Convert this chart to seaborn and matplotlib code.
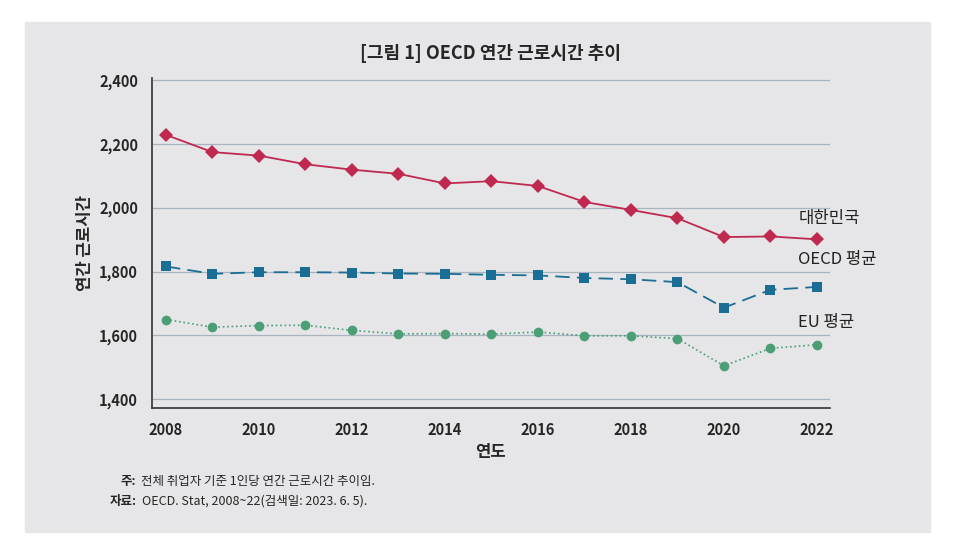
import matplotlib
matplotlib.use('Agg')
from matplotlib import pyplot as plt
from matplotlib.patches import Rectangle
import seaborn as sns

years = list(range(2008, 2023))
korea = [2228, 2174, 2163, 2136, 2119, 2106, 2076, 2083, 2068, 2018, 1993, 1967, 1908, 1910, 1901]
oecd = [1816, 1793, 1798, 1798, 1797, 1794, 1793, 1790, 1788, 1780, 1776, 1767, 1687, 1743, 1752]
eu = [1650, 1626, 1631, 1632, 1616, 1605, 1606, 1604, 1611, 1599, 1599, 1590, 1505, 1560, 1571]
yticks = [1400, 1600, 1800, 2000, 2200, 2400]

sns.set_style('white')
plt.rcParams['font.family'] = ['Noto Sans CJK KR', 'DejaVu Sans']

fig = plt.figure(figsize=(9.54, 5.57), dpi=100)
bg = '#e6e6e8'
fig.patches.append(Rectangle((25 / 954, 1 - 532 / 557), 905 / 954, 510 / 557,
                             transform=fig.transFigure, color=bg, zorder=-10))
ax = fig.add_axes([152 / 954, 1 - 408 / 557, 678 / 954, 330 / 557])
ax.set_zorder(1)
ax.set_facecolor(bg)

red, blue, green = '#c0294f', '#1a6d93', '#4b9e76'
sns.lineplot(x=years, y=korea, ax=ax, color=red, marker='D', markersize=7,
             markeredgewidth=0, linewidth=1.3)
sns.lineplot(x=years, y=oecd, ax=ax, color=blue, marker='s', markersize=7,
             markeredgewidth=0, linewidth=1.3)
ax.lines[-1].set_dashes([8, 4])
sns.lineplot(x=years, y=eu, ax=ax, color=green, marker='o', markersize=7,
             markeredgewidth=0, linewidth=1.2)
ax.lines[-1].set_linestyle(':')

ax.set_xlim(2007.7, 2022.28)
ax.set_ylim(1373, 2406)
ax.set_yticks(yticks)
ax.set_yticklabels([f'{v:,}' for v in yticks], fontsize=10.5, fontweight='bold')
ax.set_xticks(range(2008, 2023, 2))
ax.set_xticklabels([str(y) for y in range(2008, 2023, 2)], fontsize=10.5, fontweight='bold')
ax.grid(axis='y', color='#a8b4c0', linewidth=0.9)
ax.set_axisbelow(True)
for s in ['top', 'right']:
    ax.spines[s].set_visible(False)
for s in ['left', 'bottom']:
    ax.spines[s].set_color('#333333')
    ax.spines[s].set_linewidth(1.2)
ax.tick_params(axis='both', direction='out', length=6, width=1, color='#333333', pad=4)

ax.set_xlabel('연도', fontsize=12, fontweight='bold')
ax.set_ylabel('연간 근로시간', fontsize=12, fontweight='bold')
ax.set_title('[그림 1] OECD 연간 근로시간 추이', fontsize=13, fontweight='bold', pad=14)

ax.text(2021.6, 1940, '대한민국', fontsize=12, color='#222222', va='bottom')
ax.text(2021.6, 1810, 'OECD 평균', fontsize=12, color='#222222', va='bottom')
ax.text(2021.6, 1615, 'EU 평균', fontsize=12, color='#222222', va='bottom')

fig.text(121 / 954, 1 - 482 / 557, '주:', fontsize=9, fontweight='bold', va='center')
fig.text(141 / 954, 1 - 482 / 557, '전체 취업자 기준 1인당 연간 근로시간 추이임.', fontsize=9, va='center')
fig.text(110 / 954, 1 - 501 / 557, '자료:', fontsize=9, fontweight='bold', va='center')
fig.text(142 / 954, 1 - 501 / 557, 'OECD. Stat, 2008~22(검색일: 2023. 6. 5).', fontsize=9, va='center')

fig.savefig('out.png', dpi=100)
